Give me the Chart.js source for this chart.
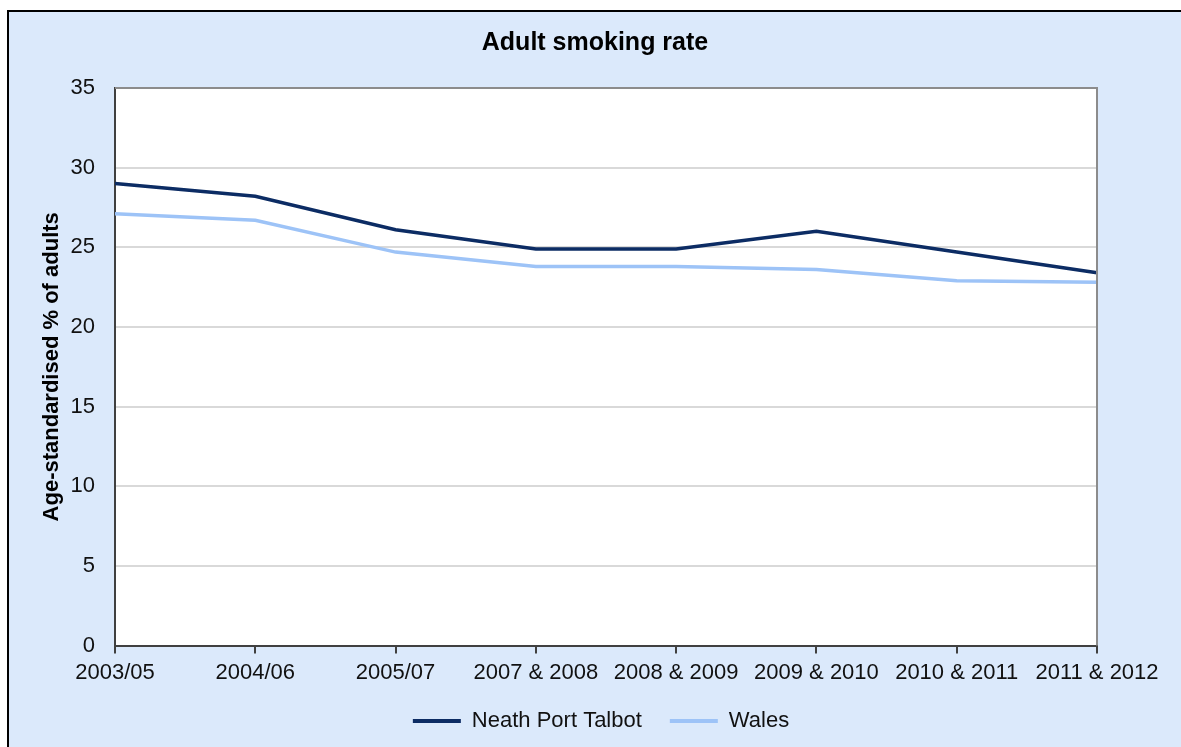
<!DOCTYPE html>
<html>
<head>
<meta charset="utf-8">
<script src="https://cdn.jsdelivr.net/npm/chart.js@4"></script>
<style>
  html, body { margin: 0; padding: 0; background: #ffffff; }
  #frame {
    position: absolute; left: 7px; top: 10px;
    width: 1172px; height: 735px;
    border-left: 2px solid #000; border-top: 2px solid #000;
    background: #dbe9fb;
  }
</style>
</head>
<body>
<div id="frame"><canvas id="smokingChart" width="1172" height="735"></canvas></div>
<script>
const periods = ['2003/05', '2004/06', '2005/07', '2007 & 2008', '2008 & 2009', '2009 & 2010', '2010 & 2011', '2011 & 2012'];
const neathPortTalbot = [29.0, 28.2, 26.1, 24.9, 24.9, 26.0, 24.7, 23.4];
const wales = [27.1, 26.7, 24.7, 23.8, 23.8, 23.6, 22.9, 22.8];

const fontFamily = '"Liberation Sans", Arial, sans-serif';

// white plot area with grey frame, like the Excel original
const plotArea = {
    id: 'plotArea',
    afterLayout(chart) {
        // centre title and legend on the whole canvas, not the padded box
        chart.titleBlock.right = chart.width;
        chart.legend.right = chart.width + 12;
    },
    beforeDraw(chart) {
        const { ctx, chartArea: a } = chart;
        ctx.save();
        ctx.fillStyle = '#ffffff';
        ctx.fillRect(a.left, a.top, a.right - a.left, a.bottom - a.top);
        ctx.restore();
    },
    afterDatasetsDraw(chart) {
        const { ctx, chartArea: a } = chart;
        ctx.save();
        ctx.strokeStyle = '#8c8c8c';
        ctx.lineWidth = 2;
        ctx.beginPath();
        ctx.moveTo(a.left, a.top);
        ctx.lineTo(a.right, a.top);
        ctx.lineTo(a.right, a.bottom);
        ctx.stroke();
        ctx.restore();
    }
};

const ctx = document.getElementById('smokingChart').getContext('2d');
new Chart(ctx, {
    type: 'line',
    data: {
        labels: periods,
        datasets: [
            {
                label: 'Neath Port Talbot',
                data: neathPortTalbot,
                borderColor: '#0c2c64',
                backgroundColor: '#0c2c64',
                borderWidth: 3.5,
                pointRadius: 0,
                tension: 0
            },
            {
                label: 'Wales',
                data: wales,
                borderColor: '#9dc3f7',
                backgroundColor: '#9dc3f7',
                borderWidth: 3.5,
                pointRadius: 0,
                tension: 0
            }
        ]
    },
    options: {
        responsive: false,
        animation: false,
        layout: { padding: { left: 0, right: 84, top: 0, bottom: 5 } },
        scales: {
            x: {
                offset: false,
                afterFit(scale) { scale.height -= 10; },
                grid: { drawOnChartArea: false, drawTicks: true, tickLength: 8, color: '#404040', lineWidth: 2 },
                border: { color: '#404040', width: 2 },
                ticks: { color: '#111', font: { family: fontFamily, size: 22 }, padding: 6, maxRotation: 0, autoSkip: false }
            },
            y: {
                min: 0,
                max: 35,
                afterFit(scale) { scale.width = 106; },
                grid: { color: '#d9d9d9', lineWidth: 2, drawTicks: false },
                border: { color: '#404040', width: 2 },
                ticks: { stepSize: 5, color: '#111', font: { family: fontFamily, size: 22 }, padding: 20 },
                title: {
                    display: true,
                    text: 'Age-standardised % of adults',
                    color: '#000',
                    font: { family: fontFamily, size: 22, weight: 'bold' },
                    padding: { top: 30, bottom: 0 }
                }
            }
        },
        plugins: {
            title: {
                display: true,
                text: 'Adult smoking rate',
                color: '#000',
                font: { family: fontFamily, size: 25, weight: 'bold' },
                padding: { top: 16, bottom: 30 }
            },
            legend: {
                position: 'bottom',
                labels: {
                    color: '#111',
                    font: { family: fontFamily, size: 22 },
                    boxWidth: 48,
                    boxHeight: 4,
                    padding: 28,
                    generateLabels(chart) {
                        return Chart.defaults.plugins.legend.labels.generateLabels(chart).map(l => ({ ...l, lineWidth: 0 }));
                    }
                }
            },
            tooltip: { enabled: false }
        }
    },
    plugins: [plotArea]
});
</script>
</body>
</html>
